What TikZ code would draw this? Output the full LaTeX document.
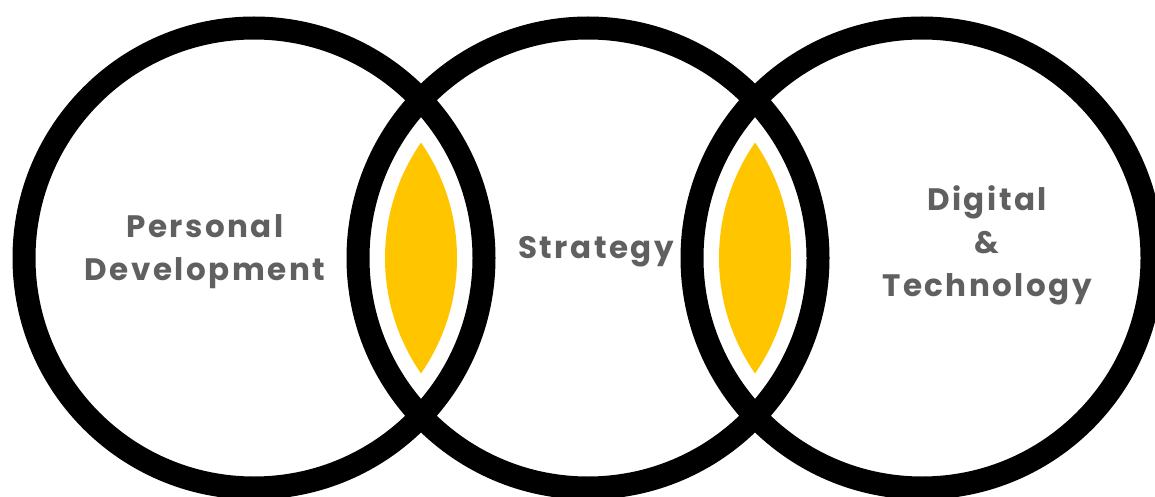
\documentclass[tikz,border=0pt]{standalone}
\usepackage{fontspec}
\newfontfamily\labelfont[LetterSpace=8]{Poppins}
\definecolor{labelgray}{RGB}{96,96,96}
\definecolor{lensyellow}{RGB}{255,198,0}
\begin{document}
\begin{tikzpicture}[x=1pt,y=-1pt,line join=round,
    ring/.style={line width=23pt},
    lbl/.style={text=labelgray,align=center,inner sep=0pt,font=\labelfont\bfseries\fontsize{31}{43}\selectfont}]
    \useasboundingbox (0,0) rectangle (1155,497);
    \fill[white] (0,0) rectangle (1155,497);
    % circle centres
    \coordinate (c1) at (254,258);
    \coordinate (c2) at (588,258);
    \coordinate (c3) at (922,258);
    \foreach \c in {c1,c2,c3}
        \draw[ring] (\c) circle (230);
    % yellow lenses
    \begin{scope}
        \clip (c1) circle (203);
        \fill[lensyellow] (c2) circle (203);
    \end{scope}
    \begin{scope}
        \clip (c2) circle (203);
        \fill[lensyellow] (c3) circle (203);
    \end{scope}
    % labels
    \node[lbl] (pd) at (205,252) {Personal\\Development};
    \node[lbl] (st) at (596,252) {Strategy};
    \node[lbl] (dt) at (987,245) {Digital\\\&\\Technology};
\end{tikzpicture}
\end{document}
